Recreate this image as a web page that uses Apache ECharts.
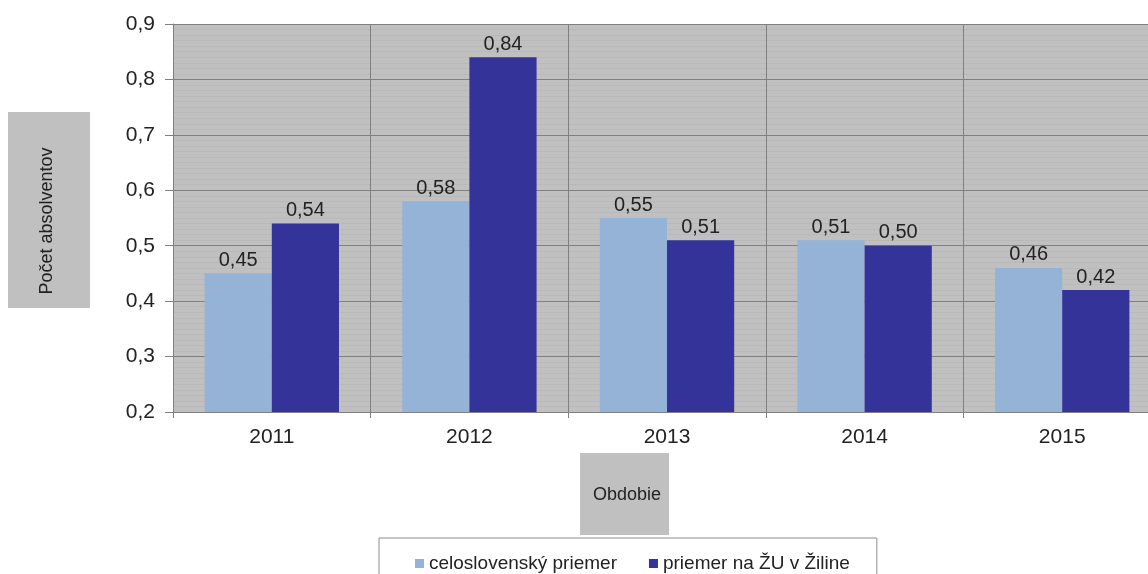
<!DOCTYPE html>
<html>
<head>
<meta charset="utf-8">
<script src="https://cdn.jsdelivr.net/npm/echarts@6/dist/echarts.min.js"></script>
<style>
html,body{margin:0;padding:0;background:#fff;}
#chart{width:1148px;height:574px;}
</style>
</head>
<body>
<div id="chart"></div>
<script>
var categories = ['2011', '2012', '2013', '2014', '2015'];
var seriesNames = ['celoslovenský priemer', 'priemer na ŽU v Žiline'];
var nationalAvg = [0.45, 0.58, 0.55, 0.51, 0.46];
var zuAvg = [0.54, 0.84, 0.51, 0.50, 0.42];
var yAxisTitle = 'Počet absolventov';
var xAxisTitle = 'Obdobie';

var FONT = "'Liberation Sans', Arial, sans-serif";
var chart = echarts.init(document.getElementById('chart'));
function comma(v, d) { return Number(v).toFixed(d).replace('.', ','); }

var labelCfg = {
  show: true, position: 'top', distance: 3,
  fontFamily: FONT, fontSize: 20, color: '#222',
  formatter: function (p) { return comma(p.value, 2); }
};

chart.setOption({
  animation: false,
  backgroundColor: '#ffffff',
  grid: {
    left: 173, width: 988, top: 24, bottom: 162,
    outerBoundsMode: 'none', containLabel: false,
    show: true, backgroundColor: '#c0c0c0', borderWidth: 0
  },
  legend: {
    data: seriesNames,
    left: 379, top: 538,
    orient: 'horizontal',
    icon: 'rect', itemWidth: 9, itemHeight: 9, itemGap: 32,
    padding: [16, 27, 30, 36],
    backgroundColor: '#ffffff', borderColor: '#8c8c8c', borderWidth: 1,
    textStyle: { fontFamily: FONT, fontSize: 19, color: '#222' }
  },
  xAxis: {
    type: 'category',
    data: categories,
    boundaryGap: true,
    axisLine: { show: true, lineStyle: { color: '#808080', width: 1 } },
    axisTick: { show: true, length: 6, lineStyle: { color: '#808080' } },
    axisLabel: { fontFamily: FONT, fontSize: 21, color: '#222', margin: 15 },
    splitLine: { show: true, lineStyle: { color: '#808080', width: 1 } }
  },
  yAxis: {
    type: 'value',
    min: 0.2, max: 0.9, interval: 0.1,
    axisLine: { show: true, lineStyle: { color: '#808080', width: 1 } },
    axisTick: { show: true, length: 8, lineStyle: { color: '#808080' } },
    axisLabel: {
      fontFamily: FONT, fontSize: 21, color: '#222', margin: 18,
      formatter: function (v) { return comma(v, 1); }
    },
    splitLine: { show: true, lineStyle: { color: '#808080', width: 1 } },
    minorTick: { show: false, splitNumber: 10 },
    minorSplitLine: { show: true, lineStyle: { color: '#b9b9b9', width: 1 } }
  },
  series: [
    {
      name: seriesNames[0], type: 'bar', data: nationalAvg,
      barGap: '0%', barCategoryGap: '32%',
      itemStyle: { color: '#95b3d7' },
      label: labelCfg
    },
    {
      name: seriesNames[1], type: 'bar', data: zuAvg,
      itemStyle: { color: '#333399' },
      label: labelCfg
    }
  ],
  graphic: [
    { type: 'rect', shape: { x: 8, y: 112, width: 82, height: 196 }, style: { fill: '#c0c0c0' }, z: 1 },
    { type: 'text', x: 47, y: 221, rotation: Math.PI / 2,
      style: { text: yAxisTitle, fontFamily: FONT, fontSize: 18, fill: '#222', textAlign: 'center', textVerticalAlign: 'middle' }, z: 2 },
    { type: 'rect', shape: { x: 580, y: 453, width: 89, height: 82 }, style: { fill: '#c0c0c0' }, z: 1 },
    { type: 'text', x: 627, y: 495,
      style: { text: xAxisTitle, fontFamily: FONT, fontSize: 18, fill: '#222', textAlign: 'center', textVerticalAlign: 'middle' }, z: 2 }
  ]
});
</script>
</body>
</html>
